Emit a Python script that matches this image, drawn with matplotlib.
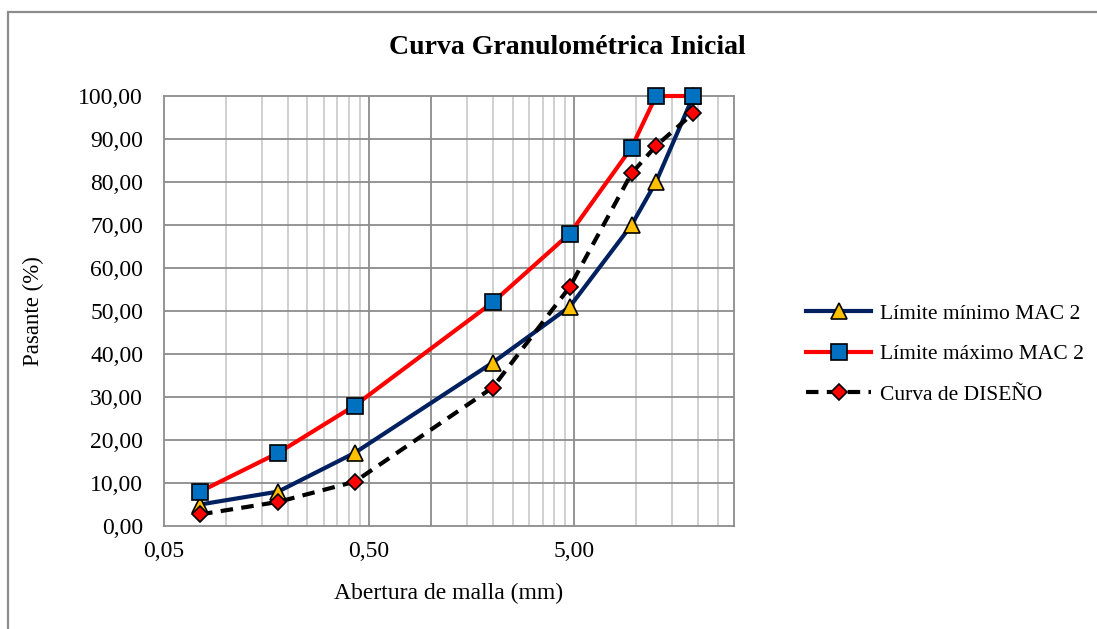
import numpy as np
import matplotlib
matplotlib.use("Agg")
import matplotlib.pyplot as plt
from matplotlib.ticker import FixedLocator, FuncFormatter
from matplotlib.patches import Rectangle

plt.rcParams['font.family'] = ['Liberation Serif', 'DejaVu Serif']

# Abertura de los tamices (mm)
abertura = [0.075, 0.18, 0.425, 2.0, 4.75, 9.5, 12.5, 19.0]

# Porcentaje que pasa
limite_min = [5, 8, 17, 38, 51, 70, 80, 100]
limite_max = [8, 17, 28, 52, 68, 88, 100, 100]
curva_diseno = [2.7, 5.6, 10.3, 32.2, 55.6, 82.0, 88.4, 96.0]

etiquetas = ["Límite mínimo MAC 2", "Límite máximo MAC 2", "Curva de DISEÑO"]

fig = plt.figure(figsize=(10.97, 6.29), dpi=100)
ax = fig.add_axes([164 / 1097, 1 - 526 / 629, (734 - 164) / 1097, (526 - 96) / 629])

# marco gris del grafico
fig.patches.append(Rectangle((8 / 1097, -0.1), 1.2, 1.1 - 12 / 629, transform=fig.transFigure,
                             fill=False, edgecolor='#8c8c8c', linewidth=1.6))

ax.set_xscale('log')
ax.set_xlim(0.05, 30)
ax.set_ylim(0, 100)

# rejilla
minor_x = [0.1, 0.15, 0.2, 0.25, 0.3, 0.35, 0.4, 0.45,
           1.5, 2, 2.5, 3, 3.5, 4, 4.5, 10, 15, 20, 25]
for xv in minor_x:
    ax.axvline(xv, color='#c8c8c8', linewidth=1.2, zorder=0)
for xv in [0.5, 1.0, 5.0]:
    ax.axvline(xv, color='#8c8c8c', linewidth=1.3, zorder=0)
for yv in range(10, 100, 10):
    ax.axhline(yv, color='#8c8c8c', linewidth=1.3, zorder=0)

fmt = FuncFormatter(lambda v, p: ("%.2f" % v).replace('.', ','))
ax.xaxis.set_major_locator(FixedLocator([0.05, 0.5, 5.0]))
ax.xaxis.set_minor_locator(FixedLocator([]))
ax.xaxis.set_major_formatter(fmt)
ax.yaxis.set_major_locator(FixedLocator(np.arange(0, 101, 10)))
ax.yaxis.set_major_formatter(fmt)
ax.tick_params(axis='both', length=0, labelsize=17)
ax.tick_params(axis='y', pad=15)
ax.tick_params(axis='x', pad=11)

for s in ax.spines.values():
    s.set_color('#8c8c8c')
    s.set_linewidth(1.3)

ax.plot(abertura, limite_min, color='#002060', linewidth=3, marker='^', markersize=12,
        markerfacecolor='#FFC000', markeredgecolor='black', markeredgewidth=1.2,
        label=etiquetas[0], zorder=3, clip_on=False)
ax.plot(abertura, limite_max, color='#FF0000', linewidth=3, marker='s', markersize=11,
        markerfacecolor='#0070C0', markeredgecolor='black', markeredgewidth=1.2,
        label=etiquetas[1], zorder=3, clip_on=False)
ax.plot(abertura, curva_diseno, color='black', linewidth=3, linestyle=(0, (3, 2)), marker='D',
        markersize=8.5, markerfacecolor='#FF0000', markeredgecolor='black', markeredgewidth=1.2,
        label=etiquetas[2], zorder=4, clip_on=False)

ax.set_xlabel("Abertura de malla (mm)", fontsize=17, labelpad=15)
ax.set_ylabel("Pasante (%)", fontsize=16.5, labelpad=25)
fig.text(567 / 1097, 1 - 48 / 629, "Curva Granulométrica Inicial", ha='center', va='center',
         fontsize=20, fontweight='bold')

fig.legend(loc='center left', bbox_to_anchor=(787 / 1097, 1 - 354 / 629), frameon=False,
           fontsize=15.5, handlelength=3.0, handletextpad=0.4, labelspacing=0.95, numpoints=1)

fig.savefig("out.png", dpi=100)
